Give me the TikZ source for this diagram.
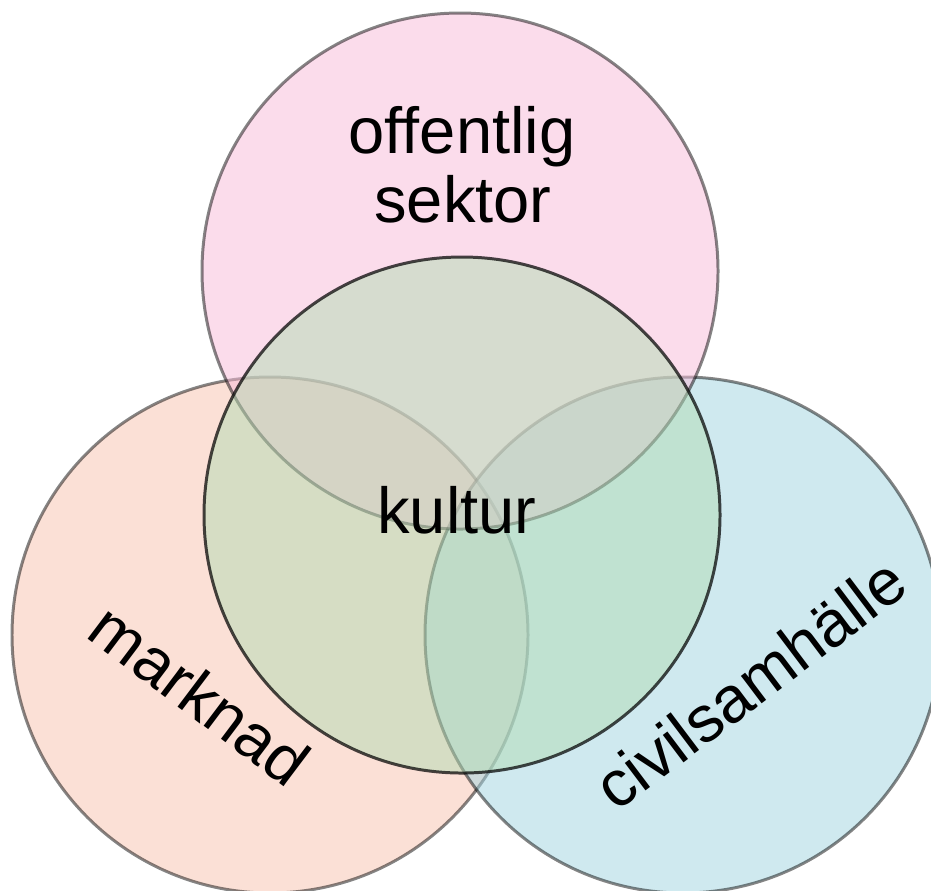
\documentclass[tikz,border=0pt]{standalone}
\usepackage{fontspec}
\setmainfont{Liberation Sans}
\definecolor{vennpink}{RGB}{249,187,216}
\definecolor{vennpeach}{RGB}{249,195,175}
\definecolor{vennblue}{RGB}{161,213,225}
\definecolor{venngreen}{RGB}{178,220,180}
\usetikzlibrary{positioning}

\begin{document}
\begin{tikzpicture}[
  x=0.01cm, y=-0.01cm,
  sector/.style={draw=black, draw opacity=0.48, line width=0.85pt, fill opacity=0.5},
  core/.style={draw=black, draw opacity=0.72, line width=0.85pt, fill=venngreen, fill opacity=0.5},
  lbl/.style={anchor=base, text=black, font=\fontsize{18.5}{22}\selectfont}
]
% page with the picture's margins
\fill[white] (0,0) rectangle (931,890);
\useasboundingbox (0,0) rectangle (931,890);

% the three sectors
\draw[sector, fill=vennpeach] (270,635) circle (258);
\draw[sector, fill=vennblue] (683,635) circle (258);
\draw[sector, fill=vennpink] (460,271) circle (258);

% culture in the middle
\draw[core] (462,515) circle (258);

\node[lbl] (pub1) at (462,153) {offentlig};
\node[lbl] (pub2) at (463,222) {sektor};
\node[lbl] (kult) at (457,533) {kultur};
\node[lbl, rotate=-37] (mkt) at (186,713) {marknad};
\node[lbl, rotate=37] (civ) at (764,702) {civilsamhälle};
\end{tikzpicture}
\end{document}
